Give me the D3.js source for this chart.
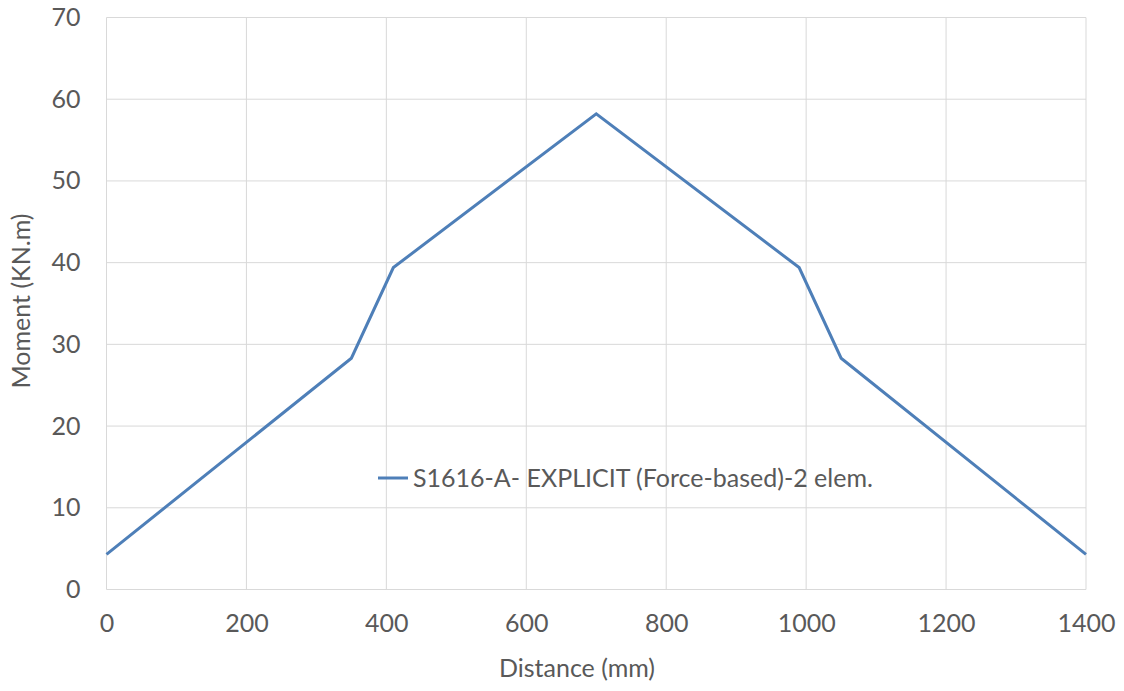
<!DOCTYPE html>
<html>
<head>
  <meta http-equiv="Content-Type" content="text/html; charset=UTF-8">
  <style>
    body { margin: 0; background: #fff; }
    text { font-family: Lato, "Open Sans", sans-serif; fill: #595959; }
    .grid line { stroke: #d9d9d9; stroke-width: 1px; }
    .axis path, .axis line { display: none; }
    .axis text { font-size: 25px; }
    .line1 { fill: none; stroke: #4e7fb8; stroke-width: 3px; stroke-linejoin: miter; }
  </style>
</head>
<body>
  <svg width="1124" height="691"></svg>
  <script src="https://cdn.jsdelivr.net/npm/d3@7/dist/d3.min.js"></script>
  <script>
    // distance (mm) and moment (kN.m)
    var distance = [0, 350, 410, 700, 990, 1050, 1400];
    var moment = [4.3, 28.3, 39.4, 58.2, 39.4, 28.3, 4.3];
    var xTicks = [0, 200, 400, 600, 800, 1000, 1200, 1400];
    var yTicks = [0, 10, 20, 30, 40, 50, 60, 70];
    var seriesName = "S1616-A- EXPLICIT (Force-based)-2 elem.";

    var svg = d3.select("svg"),
        margin = {top: 17.5, right: 38, bottom: 101.5, left: 106.5},
        width = 1124 - margin.left - margin.right,
        height = 691 - margin.top - margin.bottom;

    var x = d3.scaleLinear().domain([0, 1400]).range([0, width]),
        y = d3.scaleLinear().domain([0, 70]).range([height, 0]);

    var g = svg.append("g")
        .attr("transform", "translate(" + margin.left + "," + margin.top + ")");

    // gridlines
    g.append("g").attr("class", "grid")
      .selectAll("line").data(yTicks).enter().append("line")
        .attr("x1", 0).attr("x2", width)
        .attr("y1", function(d) { return y(d); })
        .attr("y2", function(d) { return y(d); });
    g.append("g").attr("class", "grid")
      .selectAll("line").data(xTicks).enter().append("line")
        .attr("y1", 0).attr("y2", height)
        .attr("x1", function(d) { return x(d); })
        .attr("x2", function(d) { return x(d); });

    g.append("g")
        .attr("class", "axis axis--x")
        .attr("transform", "translate(0," + height + ")")
        .call(d3.axisBottom(x).tickValues(xTicks).tickSize(0).tickPadding(25).tickFormat(d3.format("d")));

    g.append("g")
        .attr("class", "axis axis--y")
        .call(d3.axisLeft(y).tickValues(yTicks).tickSize(0).tickPadding(26).tickFormat(d3.format("d")));

    var data = distance.map(function(d, i) { return [d, moment[i]]; });
    var line1 = d3.line()
      .x(function(d) { return x(d[0]); })
      .y(function(d) { return y(d[1]); });

    g.append("path")
        .datum(data)
        .attr("class", "line1")
        .attr("d", line1);

    // legend inside plot
    var lg = g.append("g").attr("transform", "translate(" + (378 - margin.left) + "," + (478 - margin.top) + ")");
    lg.append("line").attr("x1", 0).attr("x2", 30).attr("y1", 0).attr("y2", 0)
      .attr("stroke", "#4e7fb8").attr("stroke-width", 3);
    lg.append("text").attr("x", 35).attr("y", 9)
      .style("font-size", "25px")
      .text(seriesName);

    // axis titles
    svg.append("text")
      .attr("x", 577).attr("y", 677)
      .attr("text-anchor", "middle")
      .style("font-size", "25px")
      .text("Distance (mm)");

    svg.append("text")
      .attr("transform", "translate(30,301) rotate(-90)")
      .attr("text-anchor", "middle")
      .style("font-size", "25px")
      .text("Moment (KN.m)");
  </script>
</body>
</html>
